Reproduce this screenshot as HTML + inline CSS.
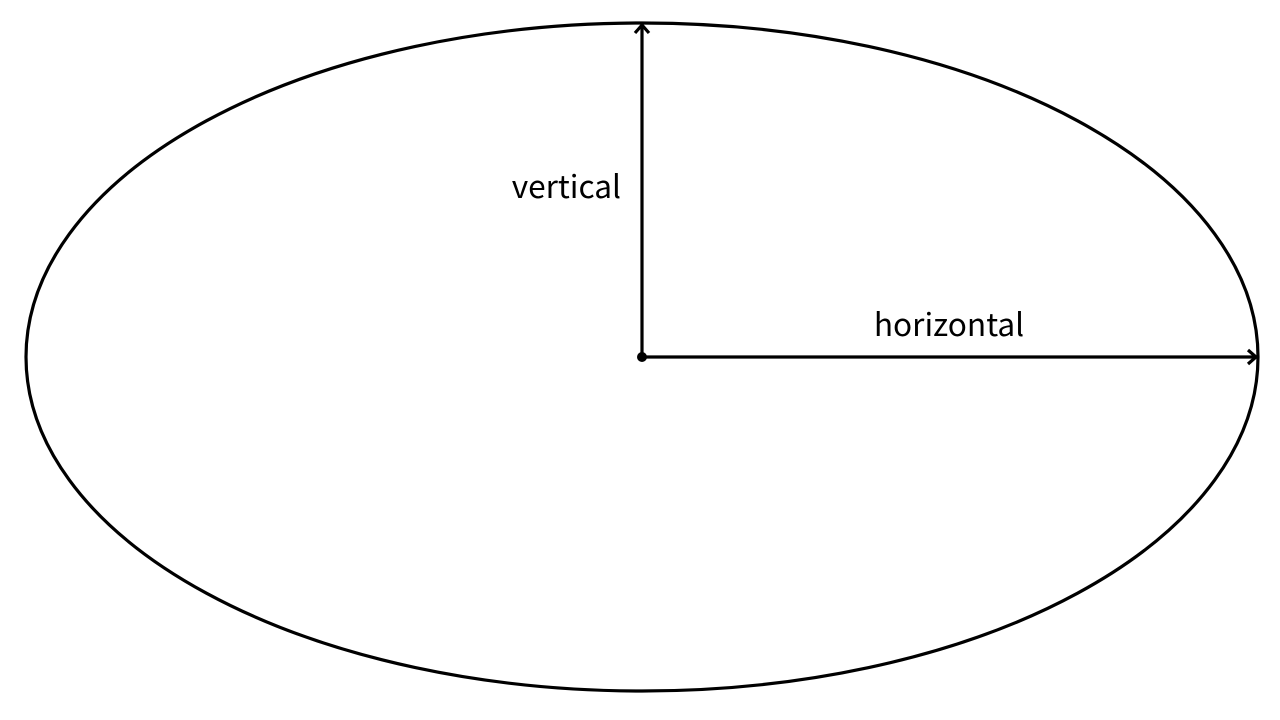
<!DOCTYPE html>
<html><head><style>html,body{margin:0;padding:0;background:#fff;}svg{display:block}</style></head>
<body>
<svg width="1280" height="720" xmlns="http://www.w3.org/2000/svg">
<ellipse cx="642" cy="357" rx="616" ry="334" fill="none" stroke="#000" stroke-width="3.2"/>
<line x1="642" y1="357" x2="642" y2="25" stroke="#000" stroke-width="3.2"/>
<polyline points="635,33 642,25 649,33" fill="none" stroke="#000" stroke-width="3.2"/>
<line x1="642" y1="357" x2="1256" y2="357" stroke="#000" stroke-width="3.2"/>
<polyline points="1248,350 1256,357 1248,364" fill="none" stroke="#000" stroke-width="3.2"/>
<circle cx="642" cy="357" r="5" fill="#000"/>
<text x="621" y="198" text-anchor="end" font-family="'Noto Sans CJK JP','Liberation Sans',sans-serif" font-size="31.6" fill="#000">vertical</text>
<text x="949" y="336" text-anchor="middle" font-family="'Noto Sans CJK JP','Liberation Sans',sans-serif" font-size="31.6" fill="#000">horizontal</text>
</svg>
</body></html>
